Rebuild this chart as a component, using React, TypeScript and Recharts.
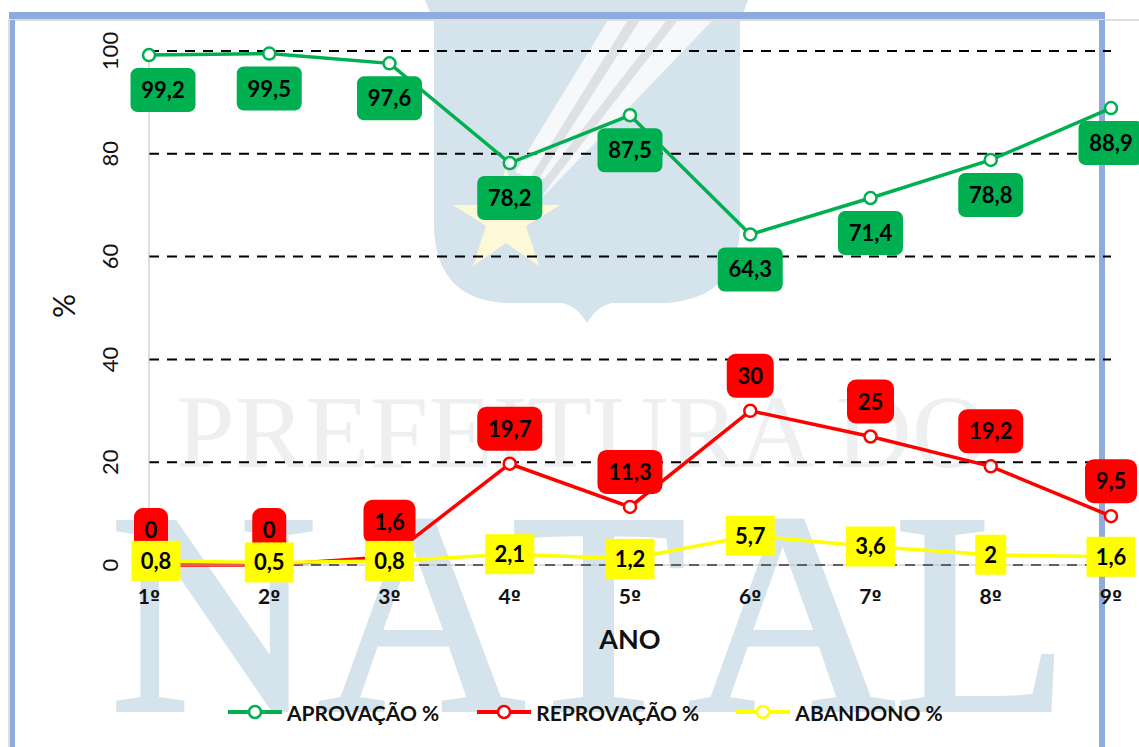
import React from 'react';
import {
   CartesianGrid,
   LabelList,
   Label,
   Legend,
   Line,
   LineChart,
   ReferenceLine,
   XAxis,
   YAxis
} from 'recharts';

const anos = ['1º', '2º', '3º', '4º', '5º', '6º', '7º', '8º', '9º'];
const aprovacao = [99.2, 99.5, 97.6, 78.2, 87.5, 64.3, 71.4, 78.8, 88.9];
const reprovacao = [0, 0, 1.6, 19.7, 11.3, 30, 25, 19.2, 9.5];
const abandono = [0.8, 0.5, 0.8, 2.1, 1.2, 5.7, 3.6, 2, 1.6];
const yTicks = [0, 20, 40, 60, 80, 100];

const data = anos.map((ano, i) => ({
   ano,
   aprovacao: aprovacao[i],
   reprovacao: reprovacao[i],
   abandono: abandono[i]
}));

const FONT = 'Lato, sans-serif';
const GREEN = '#00b050';
const RED = '#ff0000';
const YELLOW = '#ffff00';
const WATER = '#d5e3ec';

const boxWidth = (text: string) => [0, 34, 47, 52, 65][text.length];

// data label: rounded box with the value in it, moved off the point
const makeLabel =
   (fill: string, dy: number, radius: number, firstDx: number) =>
   (props: any) => {
      const { x, y, value, index } = props;
      const text = String(value).replace('.', ',');
      const w = radius ? boxWidth(text) : boxWidth(text) - 3;
      const h = radius ? 44 : 40;
      const cx = x + (index === 0 ? firstDx : 0);
      const cy = y + dy;
      return (
         <g>
            <rect
               x={cx - w / 2}
               y={cy - h / 2}
               width={w}
               height={h}
               rx={radius}
               fill={fill}
            />
            <text
               x={cx}
               y={cy + 8}
               textAnchor="middle"
               fontFamily={FONT}
               fontWeight={700}
               fontSize={22}
               fill="#000">
               {text}
            </text>
         </g>
      );
   };

const YTick = ({ x, y, payload }: any) => (
   <text
      transform={`translate(${x - 23},${y}) rotate(-90)`}
      textAnchor="middle"
      fontFamily={FONT}
      fontSize={22}
      fill="#111">
      {payload.value}
   </text>
);

// Lato's º has no bar under it, so that one glyph comes from DejaVu
const XTick = ({ x, y, payload }: any) => (
   <text
      x={x}
      y={y + 31}
      textAnchor="middle"
      fontFamily={FONT}
      fontWeight={700}
      fontSize={21}
      fill="#111">
      {payload.value.slice(0, -1)}
      <tspan fontFamily="DejaVu Sans" fontSize={18}>
         {payload.value.slice(-1)}
      </tspan>
   </text>
);

const PercentLabel = () => (
   <text
      transform="translate(75,306) rotate(-90)"
      textAnchor="middle"
      fontFamily={FONT}
      fontSize={30}
      fill="#111">
      %
   </text>
);

const legendGaps = [228, 38, 37];

const LegendContent = ({ payload }: any) => (
   <div style={{ display: 'flex', alignItems: 'center', height: 30 }}>
      {(payload || []).map((item: any, i: number) => (
         <div
            key={item.value}
            style={{
               display: 'flex',
               alignItems: 'center',
               marginLeft: legendGaps[i]
            }}>
            <svg width={54} height={20}>
               <line x1={0} x2={54} y1={10} y2={10} stroke={item.color} strokeWidth={4} />
               <circle cx={27} cy={10} r={6} fill="#fff" stroke={item.color} strokeWidth={2.5} />
            </svg>
            <span
               style={{
                  marginLeft: 5,
                  fontFamily: FONT,
                  fontWeight: 700,
                  fontSize: 21,
                  color: '#111',
                  whiteSpace: 'nowrap'
               }}>
               {item.value}
            </span>
         </div>
      ))}
   </div>
);

// faded page artwork sitting behind the chart, plus the slide frame
const Backdrop = () => (
   <svg
      width={1139}
      height={747}
      style={{ position: 'absolute', left: 0, top: 0 }}>
      <rect width={1139} height={747} fill="#fff" />
      <path
         d="M425 0 L748 0 L740 22 L740 227 Q738 298 667 303 L612 303 Q597 306 587 323 Q577 306 562 303 L503 303 Q436 298 434 227 L434 22 Z"
         fill={WATER}
      />
      <path d="M608 20 L628 20 L530 178 L515 172 Z" fill="#f6f8fa" />
      <path d="M628 20 L640 20 L538 180 L530 178 Z" fill="#dde1e5" />
      <path d="M640 20 L667 20 L545 178 L538 180 Z" fill="#f6f8fa" />
      <path d="M667 20 L678 20 L550 185 L545 178 Z" fill="#dde1e5" />
      <path d="M678 20 L713 20 L540 200 L550 185 Z" fill="#f6f8fa" />
      <path
         d="M506 168 L519 205 L560 205 L526 226 L539 266 L506 243 L473 266 L486 226 L453 205 L493 205 Z"
         fill="#fdf9d6"
      />
      <text
         x={176}
         y={467}
         textLength={812}
         lengthAdjust="spacingAndGlyphs"
         fontFamily="Liberation Serif"
         fontSize={104}
         fill="#eeeff1">
         PREFEITURA DO
      </text>
      <text
         x="110 318 511 688 894"
         y={710}
         fontFamily="Liberation Serif"
         fontSize={287}
         fill={WATER}
         stroke={WATER}
         strokeWidth={4}>
         NATAL
      </text>
      <rect x={8} y={19} width={1131} height={2} fill="#dedede" />
      <rect x={8} y={21} width={2} height={726} fill="#dedede" />
      <rect x={9} y={12} width={1096} height={7} fill="#8faadc" />
      <rect x={10} y={20} width={5} height={727} fill="#8faadc" />
      <rect x={1099} y={20} width={6} height={727} fill="#8faadc" />
   </svg>
);

const App = () => (
   <div style={{ position: 'absolute', left: 0, top: 0, width: 1139, height: 747 }}>
      <Backdrop />
      <div style={{ position: 'absolute', left: 0, top: 0 }}>
         <LineChart
            width={1139}
            height={747}
            data={data}
            margin={{ top: 51, right: 28, bottom: 92, left: 89 }}>
            <CartesianGrid
               horizontal
               vertical={false}
               stroke="#000"
               strokeWidth={2}
               strokeDasharray="10 8"
               syncWithTicks
            />
            <XAxis
               dataKey="ano"
               padding={{ left: 0, right: 0 }}
               scale="point"
               axisLine={{ stroke: '#bfbfbf' }}
               tickLine={false}
               tick={<XTick />}
               interval={0}
               height={90}>
               <Label
                  value="ANO"
                  position="insideBottom"
                  offset={6}
                  fontFamily={FONT}
                  fontWeight={700}
                  fontSize={27}
                  fill="#111"
               />
            </XAxis>
            <YAxis
               domain={[0, 100]}
               ticks={yTicks}
               width={60}
               axisLine={{ stroke: '#bfbfbf' }}
               tickLine={false}
               tick={<YTick />}>
               <Label content={<PercentLabel />} />
            </YAxis>
            <ReferenceLine
               y={0}
               stroke="#000"
               strokeDasharray="10 8"
               strokeWidth={1.5}
            />
            <Line
               name="APROVAÇÃO %"
               dataKey="aprovacao"
               stroke={GREEN}
               strokeWidth={3.5}
               dot={{ r: 6, fill: '#fff', stroke: GREEN, strokeWidth: 2.5 }}
               isAnimationActive={false}>
               <LabelList
                  dataKey="aprovacao"
                  content={makeLabel(GREEN, 35, 7, 14)}
               />
            </Line>
            <Line
               name="REPROVAÇÃO %"
               dataKey="reprovacao"
               stroke={RED}
               strokeWidth={3.5}
               dot={{ r: 6, fill: '#fff', stroke: RED, strokeWidth: 2.5 }}
               isAnimationActive={false}>
               <LabelList
                  dataKey="reprovacao"
                  content={makeLabel(RED, -35, 9, 2)}
               />
            </Line>
            <Line
               name="ABANDONO %"
               dataKey="abandono"
               stroke={YELLOW}
               strokeWidth={3.5}
               dot={{ r: 6, fill: '#fff', stroke: YELLOW, strokeWidth: 2.5 }}
               isAnimationActive={false}>
               <LabelList
                  dataKey="abandono"
                  content={makeLabel(YELLOW, 0, 0, 7)}
               />
            </Line>
            <Legend
               layout="horizontal"
               align="center"
               verticalAlign="middle"
               itemSorter={null as any}
               content={<LegendContent />}
               wrapperStyle={{ left: 0, top: 697, width: 1139 }}
            />
         </LineChart>
      </div>
   </div>
);

export default App;
